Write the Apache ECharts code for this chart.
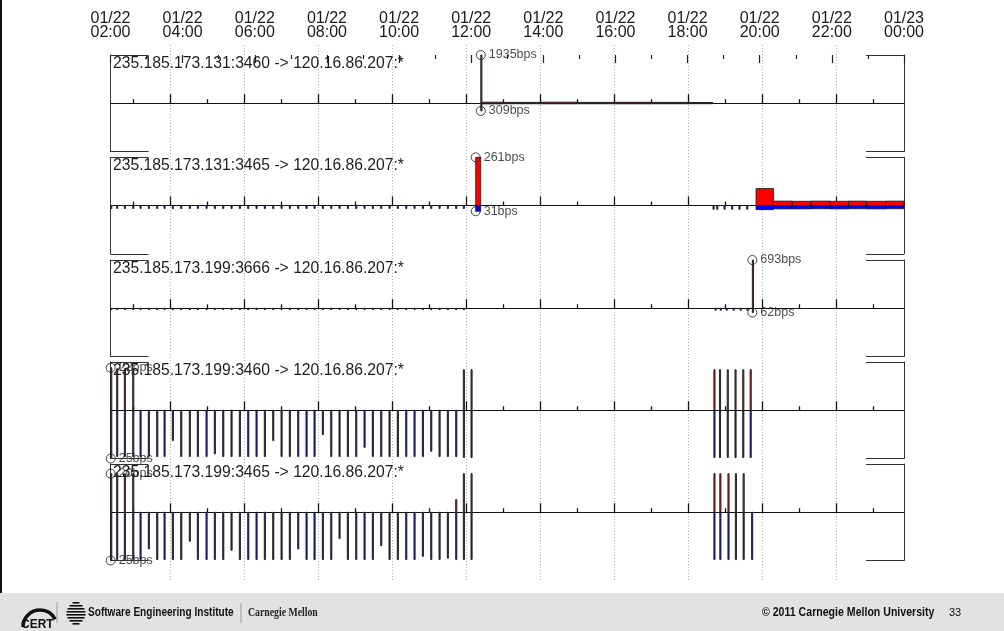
<!DOCTYPE html>
<html>
<head>
<meta charset="utf-8">
<script src="https://cdn.jsdelivr.net/npm/echarts@6/dist/echarts.min.js"></script>
<style>
  html, body { margin: 0; padding: 0; background: #ffffff; }
  #chart { width: 1004px; height: 631px; }
</style>
</head>
<body>
<div id="chart"></div>
<script>
// Hours are counted from 01/22 00:00.
const hourTicks = [2, 4, 6, 8, 10, 12, 14, 16, 18, 20, 22, 24];
const hourTickLabels = [
  '01/22\n02:00', '01/22\n04:00', '01/22\n06:00', '01/22\n08:00',
  '01/22\n10:00', '01/22\n12:00', '01/22\n14:00', '01/22\n16:00',
  '01/22\n18:00', '01/22\n20:00', '01/22\n22:00', '01/23\n00:00'
];

const flowNames = [
  '235.185.173.131:3460 -> 120.16.86.207:*',
  '235.185.173.131:3465 -> 120.16.86.207:*',
  '235.185.173.199:3666 -> 120.16.86.207:*',
  '235.185.173.199:3460 -> 120.16.86.207:*',
  '235.185.173.199:3465 -> 120.16.86.207:*'
];

// Largest outbound / inbound rate per flow: [hour, outBps, inBps]
const flowPeaks = [
  [12.395, 1935, 309],
  [12.257, 261, 31],
  [19.74, 693, 62],
  [2.384, 22, 25],
  [2.384, 20, 25]
];

// Panel half-range in bps (the larger of the two peaks)
const flowScale = [1935, 261, 693, 25, 25];

// Samples: [hour, outBps, inBps] for one poll, or [startHour, endHour, outBps, inBps] for a span.
const flow1Samples = [
  [12.395, 1935, 309],
  [12.44, 13.0, 40, 25], [13.0, 14.0, 35, 20], [14.0, 15.0, 40, 22],
  [15.0, 16.0, 35, 20], [16.0, 17.0, 38, 22], [17.0, 18.0, 35, 20],
  [18.0, 18.67, 30, 18]
];

const flow2Samples = [
  [2.384, 0, 16], [2.546, 0, 16], [2.752, 0, 16], [2.979, 0, 16], [3.177, 0, 16],
  [3.401, 0, 16], [3.628, 0, 16], [3.826, 0, 16], [4.050, 0, 16], [4.278, 0, 16],
  [4.510, 0, 16], [4.727, 0, 16], [4.962, 0, 16], [5.186, 0, 16], [5.414, 0, 16],
  [5.638, 0, 16], [5.863, 0, 16], [6.090, 0, 16], [6.314, 0, 16], [6.539, 0, 16],
  [6.766, 0, 16], [6.991, 0, 16], [7.215, 0, 16], [7.442, 0, 16], [7.667, 0, 16],
  [7.883, 0, 16], [8.108, 0, 16], [8.335, 0, 16], [8.559, 0, 16], [8.784, 0, 16],
  [9.011, 0, 16], [9.236, 0, 16], [9.460, 0, 16], [9.687, 0, 16], [9.912, 0, 16],
  [10.136, 0, 16], [10.364, 0, 16], [10.588, 0, 16], [10.813, 0, 16], [11.040, 0, 16],
  [11.265, 0, 16], [11.489, 0, 16], [11.716, 0, 16], [11.922, 0, 16],
  [12.257, 12.392, 261, 31],
  [18.676, 0, 20], [18.776, 0, 20], [18.974, 0, 20], [19.18, 0, 20], [19.378, 0, 20], [19.587, 0, 20],
  [19.84, 20.31, 92, 22],
  [20.31, 20.82, 24, 18], [20.82, 21.32, 23, 18], [21.32, 21.84, 24, 17],
  [21.84, 22.34, 23, 18], [22.34, 22.83, 24, 17], [22.83, 23.35, 23, 18],
  [23.35, 23.84, 24, 17]
];

const flow3Samples = [
  [2.384, 0, 20], [2.546, 0, 20], [2.752, 0, 20], [2.979, 0, 20], [3.177, 0, 20],
  [3.401, 0, 20], [3.628, 0, 20], [3.826, 0, 20], [4.050, 0, 20], [4.278, 0, 20],
  [4.510, 0, 20], [4.727, 0, 20], [4.962, 0, 20], [5.186, 0, 20], [5.414, 0, 20],
  [5.638, 0, 20], [5.863, 0, 20], [6.090, 0, 20], [6.314, 0, 20], [6.539, 0, 20],
  [6.766, 0, 20], [6.991, 0, 20], [7.215, 0, 20], [7.442, 0, 20], [7.667, 0, 20],
  [7.883, 0, 20], [8.108, 0, 20], [8.335, 0, 20], [8.559, 0, 20], [8.784, 0, 20],
  [9.011, 0, 20], [9.236, 0, 20], [9.460, 0, 20], [9.687, 0, 20], [9.912, 0, 20],
  [10.136, 0, 20], [10.364, 0, 20], [10.588, 0, 20], [10.813, 0, 20], [11.040, 0, 20],
  [11.265, 0, 20], [11.489, 0, 20], [11.716, 0, 20], [11.922, 0, 20],
  [18.73, 0, 28], [18.87, 0, 28], [19.03, 0, 28], [19.22, 0, 28], [19.41, 0, 28], [19.59, 0, 28],
  [19.74, 693, 62]
];

const flow4Samples = [
  [2.384, 22, 25], [2.546, 21.5, 24], [2.752, 21.5, 24], [2.979, 21.5, 24],
  [3.177, 0, 24], [3.401, 0, 24], [3.628, 0, 24], [3.826, 0, 24], [4.050, 0, 15.7],
  [4.278, 0, 24], [4.510, 0, 24], [4.727, 0, 24], [4.962, 0, 24], [5.186, 0, 22.6],
  [5.414, 0, 24], [5.638, 0, 24], [5.863, 0, 24], [6.090, 0, 24], [6.314, 0, 24],
  [6.539, 0, 24], [6.766, 0, 15.7], [6.991, 0, 24], [7.215, 0, 24], [7.442, 0, 24],
  [7.667, 0, 24], [7.883, 0, 24], [8.108, 0, 12.6], [8.335, 0, 24], [8.559, 0, 24],
  [8.784, 0, 24], [9.011, 0, 24], [9.236, 0, 19.2], [9.460, 0, 24], [9.687, 0, 24],
  [9.912, 0, 24], [10.136, 0, 24], [10.364, 0, 24], [10.588, 0, 24], [10.813, 0, 24],
  [11.040, 0, 21.2], [11.265, 0, 24], [11.489, 0, 24], [11.716, 0, 24],
  [11.922, 21, 24.5], [12.130, 21, 24.5],
  [18.70, 21, 24.5], [18.85, 21, 24.5], [19.06, 21, 24.5],
  [19.27, 21, 24.5], [19.48, 21, 24.5], [19.68, 21, 24.5]
];

const flow5Samples = [
  [2.384, 20, 25], [2.546, 20, 24.5], [2.752, 20, 24.5], [2.979, 20, 24.5],
  [3.177, 0, 24.5], [3.401, 0, 19], [3.628, 0, 24.5], [3.826, 0, 24.5], [4.050, 0, 24.5],
  [4.278, 0, 24.5], [4.510, 0, 15], [4.727, 0, 24.5], [4.962, 0, 24.5], [5.186, 0, 24.5],
  [5.414, 0, 24.5], [5.638, 0, 19.7], [5.863, 0, 24.5], [6.090, 0, 24.5], [6.314, 0, 24.5],
  [6.539, 0, 24.5], [6.766, 0, 24.5], [6.991, 0, 24.5], [7.215, 0, 24.5], [7.442, 0, 19],
  [7.667, 0, 24.5], [7.883, 0, 24.5], [8.108, 0, 24.5], [8.335, 0, 24.5], [8.559, 0, 13.6],
  [8.784, 0, 24.5], [9.011, 0, 24.5], [9.236, 0, 24.5], [9.460, 0, 24.5], [9.687, 0, 17.3],
  [9.912, 0, 24.5], [10.136, 0, 24.5], [10.364, 0, 24.5], [10.588, 0, 24.5], [10.813, 0, 22.8],
  [11.040, 0, 24.5], [11.265, 0, 24.5], [11.489, 0, 23.8], [11.716, 6.6, 24.5],
  [11.922, 20, 24.5], [12.130, 20, 24.5],
  [18.70, 20, 24.5], [18.86, 20, 24.5], [19.08, 20, 24.5],
  [19.28, 20, 24.5], [19.49, 20, 24.5], [19.72, 0, 24.5]
];

const flowSamples = [flow1Samples, flow2Samples, flow3Samples, flow4Samples, flow5Samples];

// ---- layout ----
const SAMPLE_SPAN = 0.03;           // one poll drawn as a short span (hours)
const FONT = '"Liberation Sans", Arial, Helvetica, sans-serif';
const PANEL_TOPS = [55, 157.3, 260, 362, 464];
const PANEL_H = 96.5;
const FRAME_L = 110.5, FRAME_R = 904;       // frame edges, px
const DATA_X0 = 96.5, PX_PER_HOUR = 36.97;  // data scale: 02:00 at DATA_X0
const X_MIN = 2 + (FRAME_L - DATA_X0) / PX_PER_HOUR;
const X_MAX = 2 + (FRAME_R - DATA_X0) / PX_PER_HOUR;
const BRACKET_H = 1.03;                     // bracket arm length in hours

const evenHours = [4, 6, 8, 10, 12, 14, 16, 18, 20, 22];
const oddHours = [3, 5, 7, 9, 11, 13, 15, 17, 19, 21, 23];

const toBars = s => s.map(r => r.length === 4 ? r : [r[0], r[0] + SAMPLE_SPAN, r[1], r[2]]);

function renderBars(params, api) {
  const t0 = api.value(0), t1 = api.value(1), out = api.value(2), inb = api.value(3);
  const base = api.coord([t0, 0]);
  const top = api.coord([t1, out]);
  const bot = api.coord([t1, -inb]);
  const x = base[0];
  const w = Math.max(top[0] - base[0], 1);
  const thin = w < 2.5;
  const children = [];
  if (out > 0) {
    const h = base[1] - top[1];
    const faint = thin || h < 3;
    children.push({ type: 'rect', shape: { x, y: top[1], width: w, height: h },
      style: { fill: '#ff0000', stroke: faint ? '#262626' : '#141414', lineWidth: faint ? 1 : 0.8 } });
  }
  if (inb > 0) {
    const h = bot[1] - base[1];
    const faint = thin || h < 3;
    children.push({ type: 'rect', shape: { x, y: base[1], width: w, height: h },
      style: { fill: '#0000ff', stroke: faint ? '#262626' : '#141414', lineWidth: faint ? 1 : 0.8 } });
  }
  return { type: 'group', children };
}

const grids = [
  // hour labels, spanning the frame edges
  { left: FRAME_L, width: FRAME_R - FRAME_L, top: 55, height: 505, outerBoundsMode: 'none', containLabel: false },
  // dotted hour grid on the data scale
  { left: DATA_X0, width: PX_PER_HOUR * 22, top: 45, height: 535, outerBoundsMode: 'none', containLabel: false }
];
const xAxes = [
  {
    gridIndex: 0, type: 'value', position: 'top', min: 2, max: 24, interval: 2,
    axisLine: { show: false, onZero: false },
    axisTick: { show: true, inside: true, length: 8, lineStyle: { color: '#222', width: 1.2 } },
    minorTick: { show: true, splitNumber: 2, length: 4, lineStyle: { color: '#222', width: 1.2 } },
    splitLine: { show: false },
    axisLabel: {
      show: true, margin: 15, showMinLabel: true, showMaxLabel: true, hideOverlap: false,
      fontFamily: FONT, fontSize: 16, lineHeight: 14, color: '#1a1a1a',
      formatter: v => hourTickLabels[hourTicks.indexOf(Math.round(v))] || ''
    }
  },
  {
    gridIndex: 1, type: 'value', min: 2, max: 24, interval: 2,
    axisLine: { show: false, onZero: false }, axisTick: { show: false }, axisLabel: { show: false },
    minorTick: { show: false },
    splitLine: { show: true, showMinLine: false, showMaxLine: false,
      lineStyle: { color: '#b0b0b0', width: 1, type: [1, 2] } }
  }
];
const yAxes = [
  { gridIndex: 0, type: 'value', show: false, min: 0, max: 1 },
  { gridIndex: 1, type: 'value', show: false, min: 0, max: 1 }
];
const series = [];

flowNames.forEach((name, i) => {
  const scale = flowScale[i];
  grids.push({ left: FRAME_L, width: FRAME_R - FRAME_L, top: PANEL_TOPS[i], height: PANEL_H,
    outerBoundsMode: 'none', containLabel: false });
  const g = grids.length - 1;
  const xMajor = xAxes.length;
  xAxes.push({
    gridIndex: g, type: 'value', min: X_MIN, max: X_MAX, position: 'bottom', offset: -PANEL_H / 2,
    axisLine: { show: true, onZero: false, lineStyle: { color: '#111', width: 1 } },
    axisTick: { show: true, inside: true, length: 9, customValues: evenHours, lineStyle: { color: '#111', width: 1.3 } },
    axisLabel: { show: false }, splitLine: { show: false }
  });
  xAxes.push({
    gridIndex: g, type: 'value', min: X_MIN, max: X_MAX, position: 'bottom', offset: -PANEL_H / 2,
    axisLine: { show: false, onZero: false },
    axisTick: { show: true, inside: true, length: 4, customValues: oddHours, lineStyle: { color: '#111', width: 1.3 } },
    axisLabel: { show: false }, splitLine: { show: false }
  });
  const yLeft = yAxes.length;
  yAxes.push({
    gridIndex: g, type: 'value', min: -scale, max: scale, position: 'left',
    axisLine: { show: true, onZero: false, lineStyle: { color: '#333', width: 1 } },
    axisTick: { show: false }, axisLabel: { show: false }, splitLine: { show: false }
  });
  yAxes.push({
    gridIndex: g, type: 'value', min: -scale, max: scale, position: 'right',
    axisLine: { show: true, onZero: false, lineStyle: { color: '#333', width: 1 } },
    axisTick: { show: false }, axisLabel: { show: false }, splitLine: { show: false }
  });

  series.push({
    type: 'custom', name: name, xAxisIndex: xMajor, yAxisIndex: yLeft,
    renderItem: renderBars, encode: { x: [0, 1], y: [2, 3] },
    data: toBars(flowSamples[i]), silent: true, z: 3
  });

  const peak = flowPeaks[i];
  const arm = (x0, x1, y) => [{ coord: [x0, y] }, { coord: [x1, y] }];
  series.push({
    type: 'scatter', xAxisIndex: xMajor, yAxisIndex: yLeft, silent: true, z: 4,
    symbol: 'circle', symbolSize: 9,
    itemStyle: { color: 'rgba(0,0,0,0)', borderColor: '#1a1a1a', borderWidth: 1 },
    label: {
      show: true, position: 'right', distance: 3, fontFamily: FONT, fontSize: 12.5, color: '#1a1a1a',
      formatter: p => Math.abs(p.value[1]) + 'bps'
    },
    data: [[peak[0], peak[1]], [peak[0], -peak[2]]],
    markLine: {
      silent: true, symbol: ['none', 'none'], animation: false,
      label: { show: false },
      lineStyle: { color: '#333', width: 1, type: 'solid' },
      data: [
        arm(X_MIN, X_MIN + BRACKET_H, scale), arm(X_MIN, X_MIN + BRACKET_H, -scale),
        arm(X_MAX - BRACKET_H, X_MAX, scale), arm(X_MAX - BRACKET_H, X_MAX, -scale)
      ]
    }
  });
});

// footer band with logos and copyright
const seiStripes = [];
[[7, 602], [13, 605], [17, 608], [19, 611], [19, 614], [17, 617], [13, 620], [7, 623]].forEach(([w, y]) => {
  seiStripes.push({ type: 'rect', shape: { x: 76 - w / 2, y: y, width: w, height: 1.6 }, style: { fill: '#111' } });
});
const narrow = (text, x, y, size, weight, sx) => ({
  type: 'text', x: x, y: y, scaleX: sx, originX: 0, originY: 0,
  style: { text: text, x: 0, y: 0, font: weight + ' ' + size + 'px ' + FONT, fill: '#111', verticalAlign: 'middle' }
});

const graphic = [
  { type: 'rect', shape: { x: 0, y: 0, width: 2, height: 593 }, style: { fill: '#111' } },
  { type: 'rect', shape: { x: 0, y: 593, width: 1004, height: 38 }, style: { fill: '#e2e2e2' } },
  { type: 'arc', shape: { cx: 40, cy: 627, r: 17, startAngle: Math.PI * 1.0, endAngle: Math.PI * 1.85 },
    style: { stroke: '#111', lineWidth: 3.5, fill: null } },
  { type: 'text', style: { text: 'CERT', x: 21, y: 625, font: 'bold 12px ' + FONT, fill: '#111', verticalAlign: 'middle' } },
  { type: 'rect', shape: { x: 56.5, y: 602, width: 1, height: 21 }, style: { fill: '#999' } }
].concat(seiStripes).concat([
  narrow('Software Engineering Institute', 88, 613, 12.3, 'bold', 0.82),
  { type: 'rect', shape: { x: 240.5, y: 603, width: 1, height: 20 }, style: { fill: '#999' } },
  { type: 'text', x: 248, y: 613, scaleX: 0.85, originX: 0, originY: 0,
    style: { text: 'Carnegie Mellon', x: 0, y: 0,
      font: 'bold 11.5px "Liberation Serif", "Times New Roman", serif', fill: '#222', verticalAlign: 'middle' } },
  narrow('\u00a9 2011 Carnegie Mellon University', 762, 613, 12.6, 'bold', 0.84),
  { type: 'text', style: { text: '33', x: 949, y: 613, font: '11px ' + FONT, fill: '#111', verticalAlign: 'middle' } }
]);

const chart = echarts.init(document.getElementById('chart'), null, { renderer: 'canvas' });
chart.setOption({
  animation: false,
  backgroundColor: '#ffffff',
  title: flowNames.map((n, i) => ({
    text: n, left: 113, top: PANEL_TOPS[i] + 0.5, padding: 0,
    textStyle: { fontFamily: FONT, fontSize: 15.7, fontWeight: 'normal', color: '#1e1e1e' }
  })),
  grid: grids,
  xAxis: xAxes,
  yAxis: yAxes,
  series: series,
  graphic: graphic
});
</script>
</body>
</html>
